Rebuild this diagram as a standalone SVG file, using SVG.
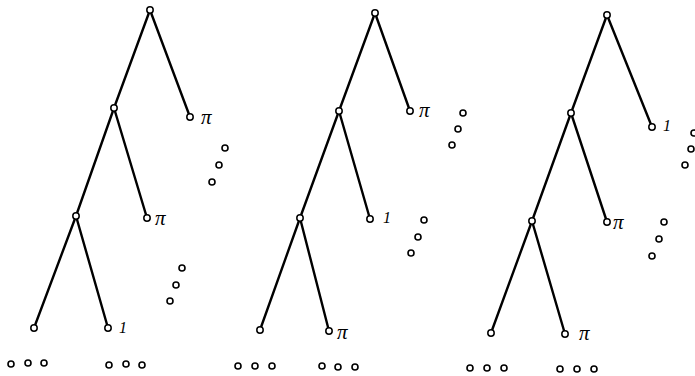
<svg xmlns="http://www.w3.org/2000/svg" width="695" height="376" viewBox="0 0 695 376">
<style>
.e{stroke:#000;stroke-width:2.4;fill:none;stroke-linecap:round}
.n{fill:#fff;stroke:#000;stroke-width:1.5}
.d{fill:#fff;stroke:#000;stroke-width:1.6}
.l{font-family:"Liberation Serif",serif;font-style:italic;font-size:21px;fill:#000}
.o{font-family:"Liberation Serif",serif;font-style:italic;font-size:16px;fill:#000}
</style>
<rect width="695" height="376" fill="#fff"/>
<g id="connectors">
<line class="e" x1="150" y1="10" x2="114" y2="108"/>
<line class="e" x1="150" y1="10" x2="190" y2="117"/>
<line class="e" x1="114" y1="108" x2="76" y2="216"/>
<line class="e" x1="114" y1="108" x2="147" y2="218"/>
<line class="e" x1="76" y1="216" x2="34" y2="328"/>
<line class="e" x1="76" y1="216" x2="108" y2="328"/>
<line class="e" x1="375" y1="13" x2="339" y2="111"/>
<line class="e" x1="375" y1="13" x2="410" y2="111"/>
<line class="e" x1="339" y1="111" x2="300" y2="218"/>
<line class="e" x1="339" y1="111" x2="370" y2="219"/>
<line class="e" x1="300" y1="218" x2="260" y2="330"/>
<line class="e" x1="300" y1="218" x2="329" y2="331"/>
<line class="e" x1="607" y1="15" x2="571" y2="113"/>
<line class="e" x1="607" y1="15" x2="652" y2="127"/>
<line class="e" x1="571" y1="113" x2="532" y2="221"/>
<line class="e" x1="571" y1="113" x2="607" y2="222"/>
<line class="e" x1="532" y1="221" x2="491" y2="333"/>
<line class="e" x1="532" y1="221" x2="565" y2="334"/>
</g>
<g id="tree1">
<circle class="n" cx="150" cy="10" r="3.2"/>
<circle class="n" cx="114" cy="108" r="3.2"/>
<circle class="n" cx="190" cy="117" r="3.2"/>
<circle class="n" cx="76" cy="216" r="3.2"/>
<circle class="n" cx="147" cy="218" r="3.2"/>
<circle class="n" cx="34" cy="328" r="3.2"/>
<circle class="n" cx="108" cy="328" r="3.2"/>
<text class="l" x="201" y="124">π</text>
<text class="l" x="155" y="225">π</text>
<text class="o" x="119" y="333">1</text>
<circle class="d" cx="225" cy="148" r="3"/>
<circle class="d" cx="219" cy="165" r="3"/>
<circle class="d" cx="212" cy="182" r="3"/>
<circle class="d" cx="182" cy="268" r="3"/>
<circle class="d" cx="176" cy="285" r="3"/>
<circle class="d" cx="170" cy="301" r="3"/>
<circle class="d" cx="11" cy="364" r="3"/>
<circle class="d" cx="28" cy="363" r="3"/>
<circle class="d" cx="44" cy="363" r="3"/>
<circle class="d" cx="109" cy="365" r="3"/>
<circle class="d" cx="126" cy="364" r="3"/>
<circle class="d" cx="142" cy="365" r="3"/>
</g>
<g id="tree2">
<circle class="n" cx="375" cy="13" r="3.2"/>
<circle class="n" cx="339" cy="111" r="3.2"/>
<circle class="n" cx="410" cy="111" r="3.2"/>
<circle class="n" cx="300" cy="218" r="3.2"/>
<circle class="n" cx="370" cy="219" r="3.2"/>
<circle class="n" cx="260" cy="330" r="3.2"/>
<circle class="n" cx="329" cy="331" r="3.2"/>
<text class="l" x="419" y="117">π</text>
<text class="o" x="383" y="223">1</text>
<text class="l" x="337" y="339">π</text>
<circle class="d" cx="463" cy="113" r="3"/>
<circle class="d" cx="458" cy="129" r="3"/>
<circle class="d" cx="452" cy="145" r="3"/>
<circle class="d" cx="424" cy="220" r="3"/>
<circle class="d" cx="418" cy="237" r="3"/>
<circle class="d" cx="411" cy="253" r="3"/>
<circle class="d" cx="238" cy="366" r="3"/>
<circle class="d" cx="255" cy="366" r="3"/>
<circle class="d" cx="272" cy="366" r="3"/>
<circle class="d" cx="322" cy="366" r="3"/>
<circle class="d" cx="338" cy="367" r="3"/>
<circle class="d" cx="355" cy="367" r="3"/>
</g>
<g id="tree3">
<circle class="n" cx="607" cy="15" r="3.2"/>
<circle class="n" cx="571" cy="113" r="3.2"/>
<circle class="n" cx="652" cy="127" r="3.2"/>
<circle class="n" cx="532" cy="221" r="3.2"/>
<circle class="n" cx="607" cy="222" r="3.2"/>
<circle class="n" cx="491" cy="333" r="3.2"/>
<circle class="n" cx="565" cy="334" r="3.2"/>
<text class="o" x="663" y="131">1</text>
<text class="l" x="613" y="229">π</text>
<text class="l" x="579" y="340">π</text>
<circle class="d" cx="694" cy="133" r="3"/>
<circle class="d" cx="691" cy="149" r="3"/>
<circle class="d" cx="685" cy="165" r="3"/>
<circle class="d" cx="664" cy="222" r="3"/>
<circle class="d" cx="659" cy="239" r="3"/>
<circle class="d" cx="652" cy="256" r="3"/>
<circle class="d" cx="470" cy="368" r="3"/>
<circle class="d" cx="487" cy="368" r="3"/>
<circle class="d" cx="504" cy="368" r="3"/>
<circle class="d" cx="560" cy="369" r="3"/>
<circle class="d" cx="577" cy="369" r="3"/>
<circle class="d" cx="594" cy="369" r="3"/>
</g>
</svg>
